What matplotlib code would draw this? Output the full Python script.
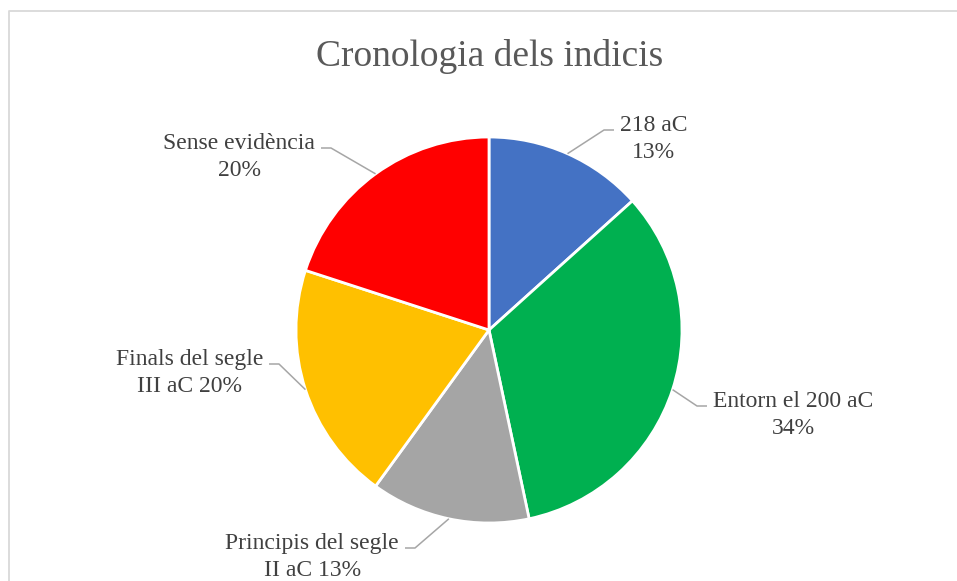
import numpy as np
import matplotlib
matplotlib.use("Agg")
from matplotlib import pyplot as plt

# datos del gráfico
categorias = ["218 aC", "Entorn el 200 aC", "Principis del segle\nII aC", "Finals del segle\nIII aC", "Sense evidència"]
valores = [2, 5, 2, 3, 3]
porcentajes = ["13%", "34%", "13%", "20%", "20%"]
colores = ["#4472C4", "#00B050", "#A5A5A5", "#FFC000", "#FF0000"]
titulo = "Cronologia dels indicis"

W, H = 957, 581
plt.rcParams['font.family'] = ['Liberation Serif', 'DejaVu Serif']

fig = plt.figure(figsize=(W / 100, H / 100), dpi=100)
ax = fig.add_axes([0, 0, 1, 1])

cx, cy, r = 489, H - 330, 193
wedges, _ = ax.pie(valores, colors=colores, startangle=90, counterclock=False,
                   center=(cx, cy), radius=r,
                   wedgeprops=dict(edgecolor='white', linewidth=2))
ax.set_xlim(0, W)
ax.set_ylim(0, H)
ax.set_aspect('equal')
ax.axis('off')

# posiciones de las etiquetas (pixeles, y hacia abajo): x borde, y centro, alineación
pos_etiquetas = [(620, 139, 'left'), (713, 415, 'left'), (399, 557, 'right'),
                 (263, 373, 'right'), (315, 157, 'right')]

for w, cat, pct, (tx, ty, ha) in zip(wedges, categorias, porcentajes, pos_etiquetas):
    if "\n" in cat:
        texto = cat + " " + pct
    else:
        texto = cat + "\n" + pct
    ax.text(tx, H - ty, texto, ha=ha, va='center', multialignment='center',
            fontsize=17, color='#404040', linespacing=1.43)
    # línea guía desde el borde del sector
    ang = np.deg2rad((w.theta1 + w.theta2) / 2)
    x0, y0 = cx + r * np.cos(ang), cy + r * np.sin(ang)
    s = 1 if ha == 'left' else -1
    ly = H - (ty - 9)
    xs = [x0, tx - s * 16, tx - s * 6]
    ys = [y0, ly, ly]
    ax.plot(xs, ys, color='#A6A6A6', linewidth=1.1, solid_capstyle='butt')

# marco del gráfico
ax.plot([8.5, 8.5, W], [0, H - 10.5, H - 10.5], color='#D9D9D9', linewidth=1.3)

fig.text(490 / W, 1 - 56 / H, titulo, ha='center', va='center',
         fontsize=27, color='#595959')

fig.savefig("out.png", dpi=100, facecolor='white')
